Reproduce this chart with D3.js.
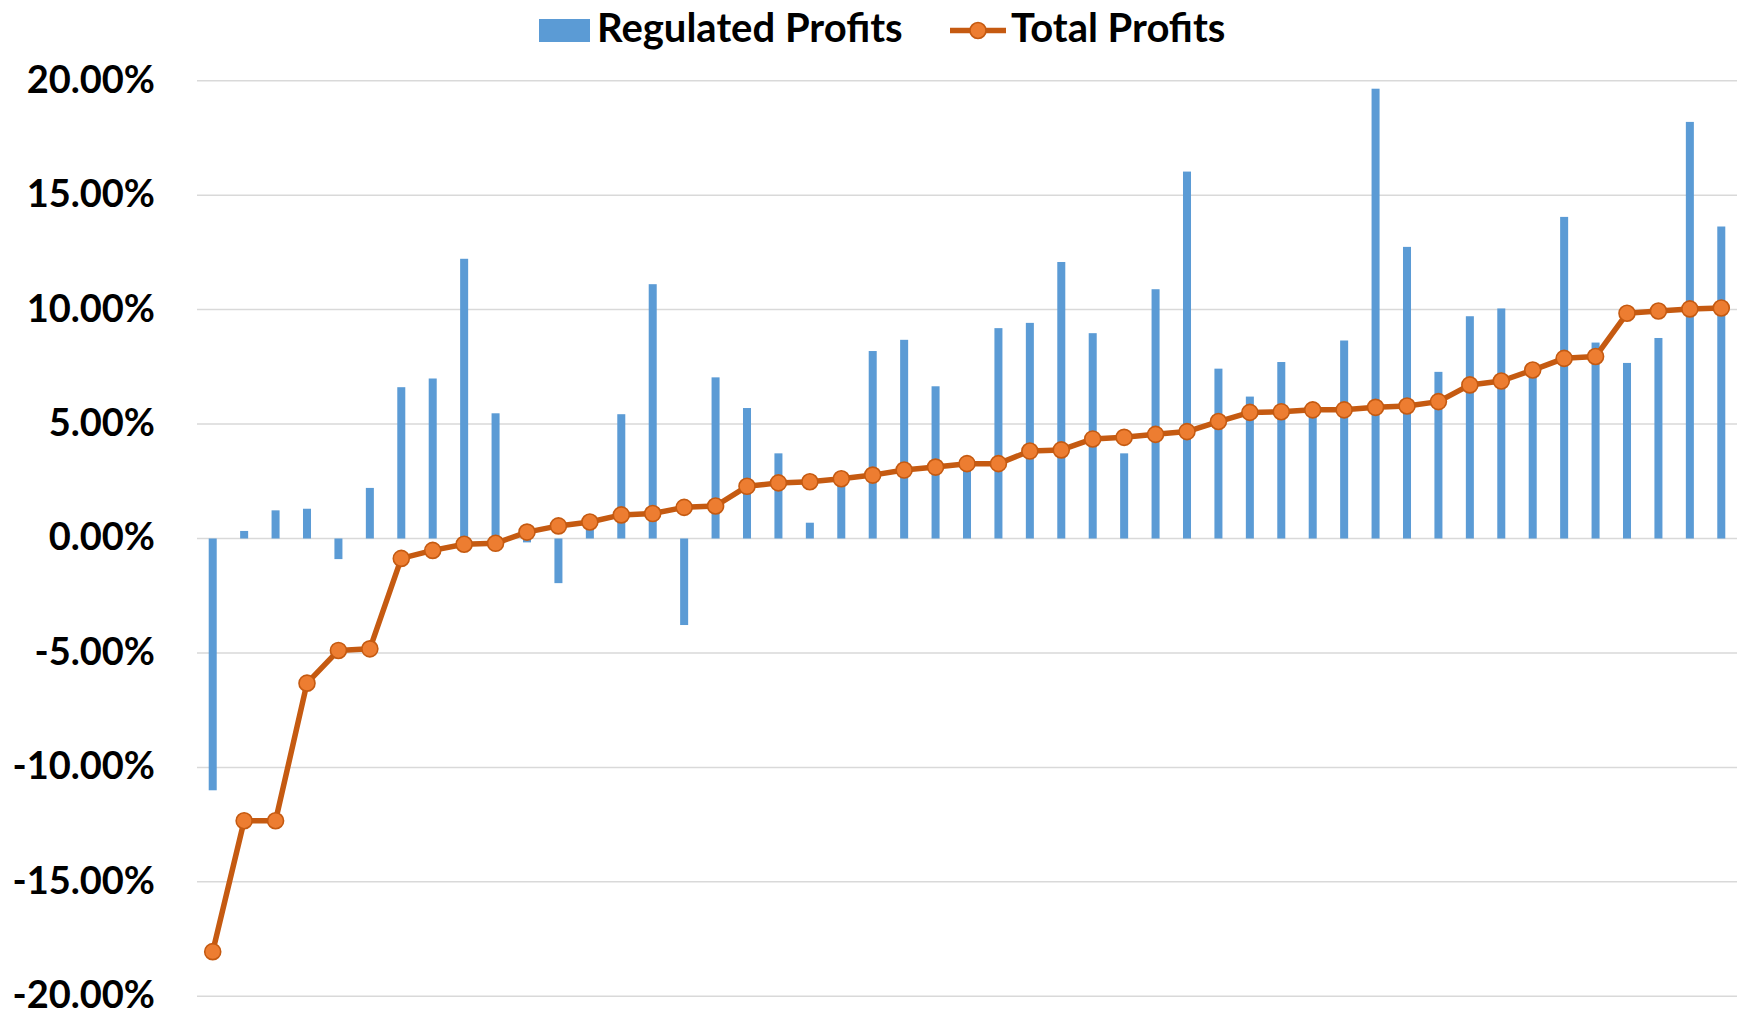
<!DOCTYPE html>
<html>
<head>
<meta charset="utf-8">
<script src="https://cdn.jsdelivr.net/npm/d3@7"></script>
<style>
  html, body { margin: 0; padding: 0; background: #fff; }
  svg text { font-family: Lato, "Open Sans", sans-serif; font-weight: 700; fill: #000; }
</style>
</head>
<body>
<svg id="chart" width="1739" height="1016"></svg>
<script>
// ---- data ----
const categories = d3.range(1, 50);
const regulatedProfits = [
  -11.0, 0.33, 1.23, 1.30, -0.90, 2.21, 6.61, 6.99, 12.22, 5.47,
  -0.17, -1.95, 0.6, 5.43, 11.11, -3.78, 7.04, 5.70, 3.72, 0.69,
  2.5, 8.19, 8.68, 6.65, 3.1, 9.19, 9.42, 12.08, 8.97, 3.72,
  10.89, 16.03, 7.42, 6.20, 7.71, 5.5, 8.65, 19.65, 12.74, 7.28,
  9.71, 10.05, 7.2, 14.05, 8.56, 7.67, 8.76, 18.20, 13.63
];
const totalProfits = [
  -18.05, -12.33, -12.33, -6.32, -4.89, -4.82, -0.87, -0.52, -0.25, -0.21,
  0.28, 0.55, 0.72, 1.03, 1.09, 1.36, 1.42, 2.28, 2.43, 2.48,
  2.61, 2.77, 2.99, 3.12, 3.27, 3.27, 3.82, 3.87, 4.35, 4.42,
  4.55, 4.67, 5.11, 5.51, 5.54, 5.62, 5.62, 5.73, 5.79, 5.98,
  6.71, 6.88, 7.36, 7.87, 7.95, 9.84, 9.94, 10.03, 10.07
];
const yTicks = [-20, -15, -10, -5, 0, 5, 10, 15, 20];
const seriesNames = ["Regulated Profits", "Total Profits"];

// ---- layout ----
const svg = d3.select("#chart");
const plot = { left: 197, right: 1737, top: 80.7, bottom: 996.3 };
const barColor = "#5B9BD5";
const lineColor = "#C55A11";
const markerFill = "#ED7D31";

const x = d3.scalePoint().domain(categories).range([plot.left, plot.right]).padding(0.5);
const y = d3.scaleLinear().domain([-20, 20]).range([plot.bottom, plot.top]);
const barW = x.step() * 0.255;

// gridlines
svg.append("g").selectAll("line").data(yTicks).join("line")
  .attr("x1", plot.left).attr("x2", plot.right)
  .attr("y1", d => y(d)).attr("y2", d => y(d))
  .attr("stroke", "#D9D9D9").attr("stroke-width", 1.5);

// y axis labels
const yAxis = d3.axisLeft(y).tickValues(yTicks).tickFormat(d => d.toFixed(2) + "%").tickSize(0).tickPadding(0);
const ya = svg.append("g").attr("transform", "translate(155,0)").call(yAxis);
ya.select(".domain").remove();
ya.selectAll("text").attr("font-size", 38).attr("font-family", "Lato, sans-serif").attr("font-weight", 700)
  .attr("fill", "#000").attr("dy", "0.3em");

// bars
svg.append("g").selectAll("rect").data(regulatedProfits).join("rect")
  .attr("x", (d, i) => x(categories[i]) - barW / 2)
  .attr("width", barW)
  .attr("y", d => Math.min(y(d), y(0)))
  .attr("height", d => Math.abs(y(d) - y(0)))
  .attr("fill", barColor);

// line
const line = d3.line().x((d, i) => x(categories[i])).y(d => y(d));
svg.append("path").datum(totalProfits).attr("d", line)
  .attr("fill", "none").attr("stroke", lineColor).attr("stroke-width", 5.5).attr("stroke-linejoin", "round");
svg.append("g").selectAll("circle").data(totalProfits).join("circle")
  .attr("cx", (d, i) => x(categories[i])).attr("cy", d => y(d)).attr("r", 8)
  .attr("fill", markerFill).attr("stroke", lineColor).attr("stroke-width", 1.6);

// legend
const lg = svg.append("g");
lg.append("rect").attr("x", 539).attr("y", 19).attr("width", 51).attr("height", 23).attr("fill", barColor);
lg.append("text").attr("x", 597).attr("y", 42).attr("font-size", 40).text(seriesNames[0]);
lg.append("line").attr("x1", 950).attr("x2", 1006).attr("y1", 30.5).attr("y2", 30.5)
  .attr("stroke", lineColor).attr("stroke-width", 5.5);
lg.append("circle").attr("cx", 978).attr("cy", 30.5).attr("r", 8)
  .attr("fill", markerFill).attr("stroke", lineColor).attr("stroke-width", 1.6);
lg.append("text").attr("x", 1011).attr("y", 42).attr("font-size", 40).text(seriesNames[1]);
</script>
</body>
</html>
